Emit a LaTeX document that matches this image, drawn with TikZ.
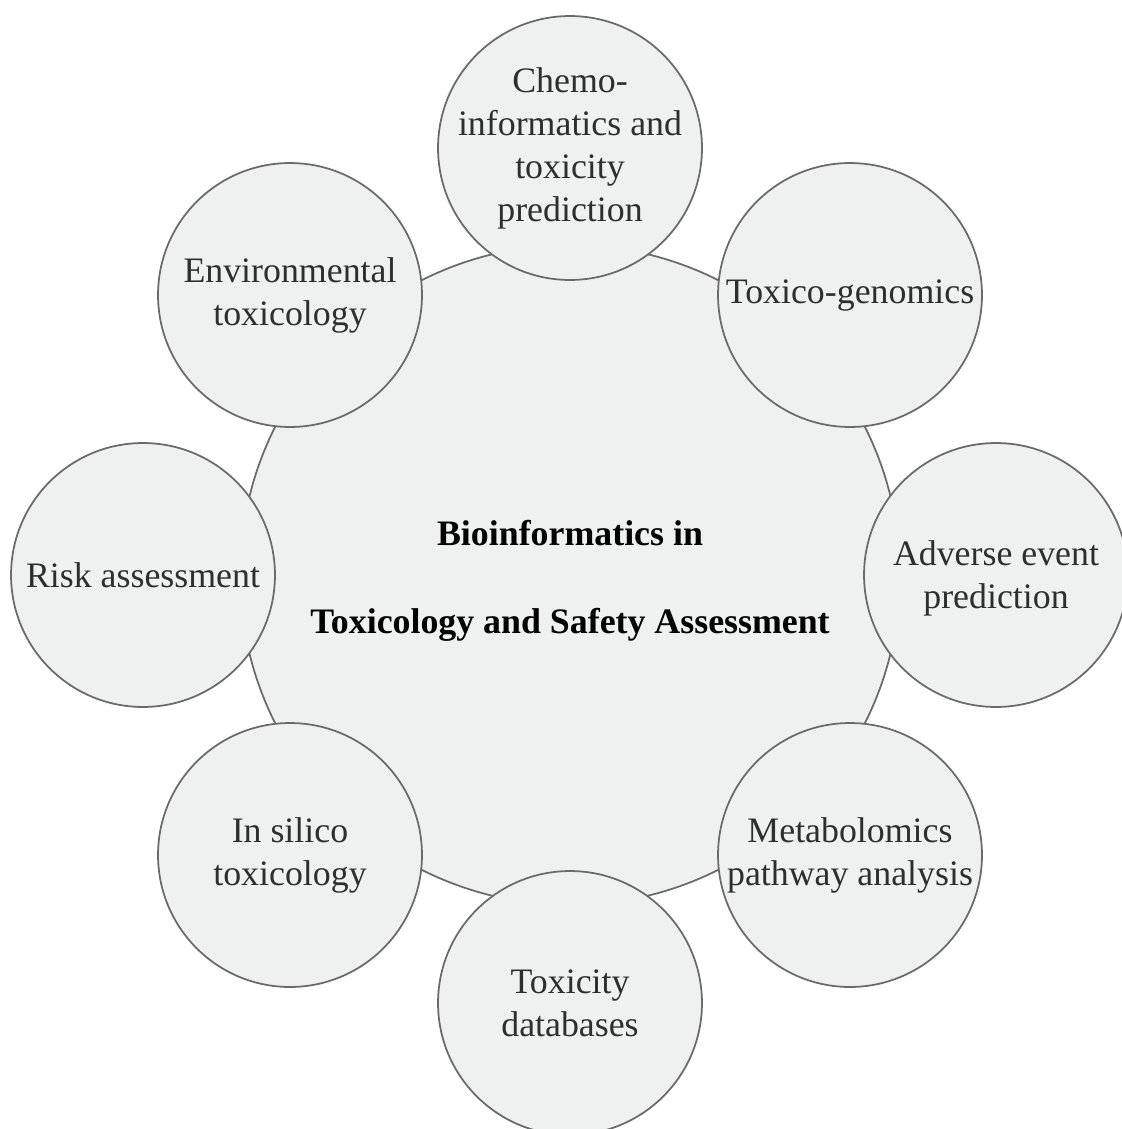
\documentclass[tikz,border=0pt]{standalone}
\usepackage{fontspec}
\setmainfont{Liberation Serif}
\usepackage{xcolor}
\usepackage{tikz}
\usetikzlibrary{positioning}
\definecolor{bubblefill}{HTML}{EFF0F0}
\definecolor{bubbleline}{HTML}{6A6A6A}
\definecolor{bubbletext}{HTML}{2E2E2E}
\tikzset{
  hub/.style={circle, draw=bubbleline, line width=1pt, fill=bubblefill, minimum size=13.2cm, inner sep=0pt},
  sat/.style={circle, draw=bubbleline, line width=1pt, fill=bubblefill, minimum size=5.28cm, inner sep=0pt},
  txt/.style={align=center, text=bubbletext, inner sep=0pt, font=\fontsize{20.4}{24.5}\selectfont},
  hubtxt/.style={align=center, text=black, inner sep=0pt, yshift=-0.12cm, font=\fontsize{20.4}{24.5}\selectfont\bfseries}
}

\begin{document}
\begin{tikzpicture}[x=0.02cm, y=-0.02cm]
  \useasboundingbox (0,0) rectangle (1122,1129);
  \node[hub, label={[hubtxt]center:Bioinformatics in\\[25.4pt]Toxicology and Safety Assessment}] (hub) at (570,575) {};
  \node[sat, label={[txt]center:Chemo-\\informatics and\\toxicity\\prediction}] (chemo) at (570,148) {};
  \node[sat, label={[txt]center:Toxico-genomics}] (genom) at (850,295) {};
  \node[sat, label={[txt, yshift=-0.06cm]center:Adverse event\\prediction}] (adverse) at (996,575) {};
  \node[sat, label={[txt]center:Metabolomics\\pathway analysis}] (metab) at (850,855) {};
  \node[sat, label={[txt]center:Toxicity\\databases}] (tdb) at (570,1003) {};
  \node[sat, label={[txt]center:In silico\\toxicology}] (silico) at (290,855) {};
  \node[sat, label={[txt]center:Risk assessment}] (risk) at (143,575) {};
  \node[sat, label={[txt]center:Environmental\\toxicology}] (envtox) at (290,295) {};
\end{tikzpicture}
\end{document}
